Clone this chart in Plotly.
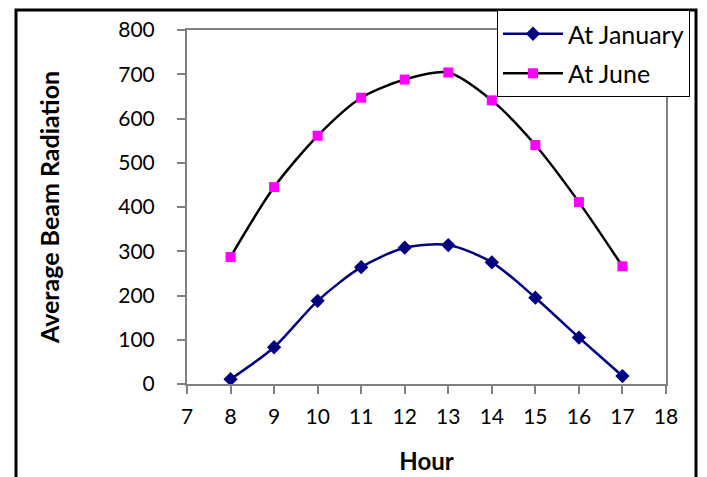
import plotly.graph_objects as go

hours = [8, 9, 10, 11, 12, 13, 14, 15, 16, 17]
january = [11, 83, 188, 264, 308, 314, 275, 195, 105, 18]
june = [287, 445, 561, 647, 688, 704, 641, 540, 411, 266]

# page has an 8px body margin, so work in reference pixel coordinates minus 8
OFF = 8
W, H = 707, 477
L, R, T, B = 187 - OFF, 41 + OFF, 30 - OFF, 93 + OFF
pw, ph = W - L - R, H - T - B

def px(x):
    return (x - OFF - L) / pw

def py(y):
    return (H - B - (y - OFF)) / ph

fig = go.Figure()
fig.add_trace(go.Scatter(x=hours, y=january, name="At January", mode="lines+markers",
                         legendgroup="jan",
                         line=dict(color="#000080", width=2.5, shape="spline", smoothing=0.8),
                         marker=dict(symbol="diamond", size=11, color="#000080")))
fig.add_trace(go.Scatter(x=hours, y=june, name="At June", mode="lines+markers",
                         legendgroup="jun",
                         line=dict(color="#000000", width=2.5, shape="spline", smoothing=0.8),
                         marker=dict(symbol="square", size=10, color="#FF00FF")))

font = "Lato"
fig.update_layout(
    width=W, height=H,
    margin=dict(l=L, r=R, t=T, b=B, autoexpand=False),
    paper_bgcolor="white", plot_bgcolor="white",
    font=dict(family=font, color="black", size=21),
    showlegend=True,
    legend=dict(x=px(497), y=py(10), xanchor="left", yanchor="top",
                bordercolor="black", borderwidth=1, bgcolor="white",
                font=dict(size=25, family=font), tracegroupgap=4, itemwidth=60),
    xaxis=dict(range=[7, 18], tickmode="linear", tick0=7, dtick=1,
               showgrid=False, zeroline=False, showline=True, linecolor="#808080", linewidth=2,
               mirror=True, ticks="outside", ticklen=8, tickcolor="#808080", tickwidth=1.5,
               ticklabelstandoff=5,
               title=dict(text="<b>Hour</b>", font=dict(size=24, family=font), standoff=26),
               tickfont=dict(size=21, family=font)),
    yaxis=dict(range=[0, 800], tickmode="linear", tick0=0, dtick=100,
               showgrid=False, zeroline=False, showline=True, linecolor="#808080", linewidth=2,
               mirror=True, ticks="outside", ticklen=8, tickcolor="#808080", tickwidth=1.5,
               ticklabelstandoff=18,
               title=dict(text="<b>Average Beam Radiation</b>", font=dict(size=25, family=font), standoff=52),
               tickfont=dict(size=21, family=font)),
    shapes=[dict(type="rect", xref="paper", yref="paper",
                 x0=px(16), x1=px(696), y0=py(H + 30), y1=py(10),
                 line=dict(color="black", width=3), layer="below")],
)

fig.write_html("out.html")
